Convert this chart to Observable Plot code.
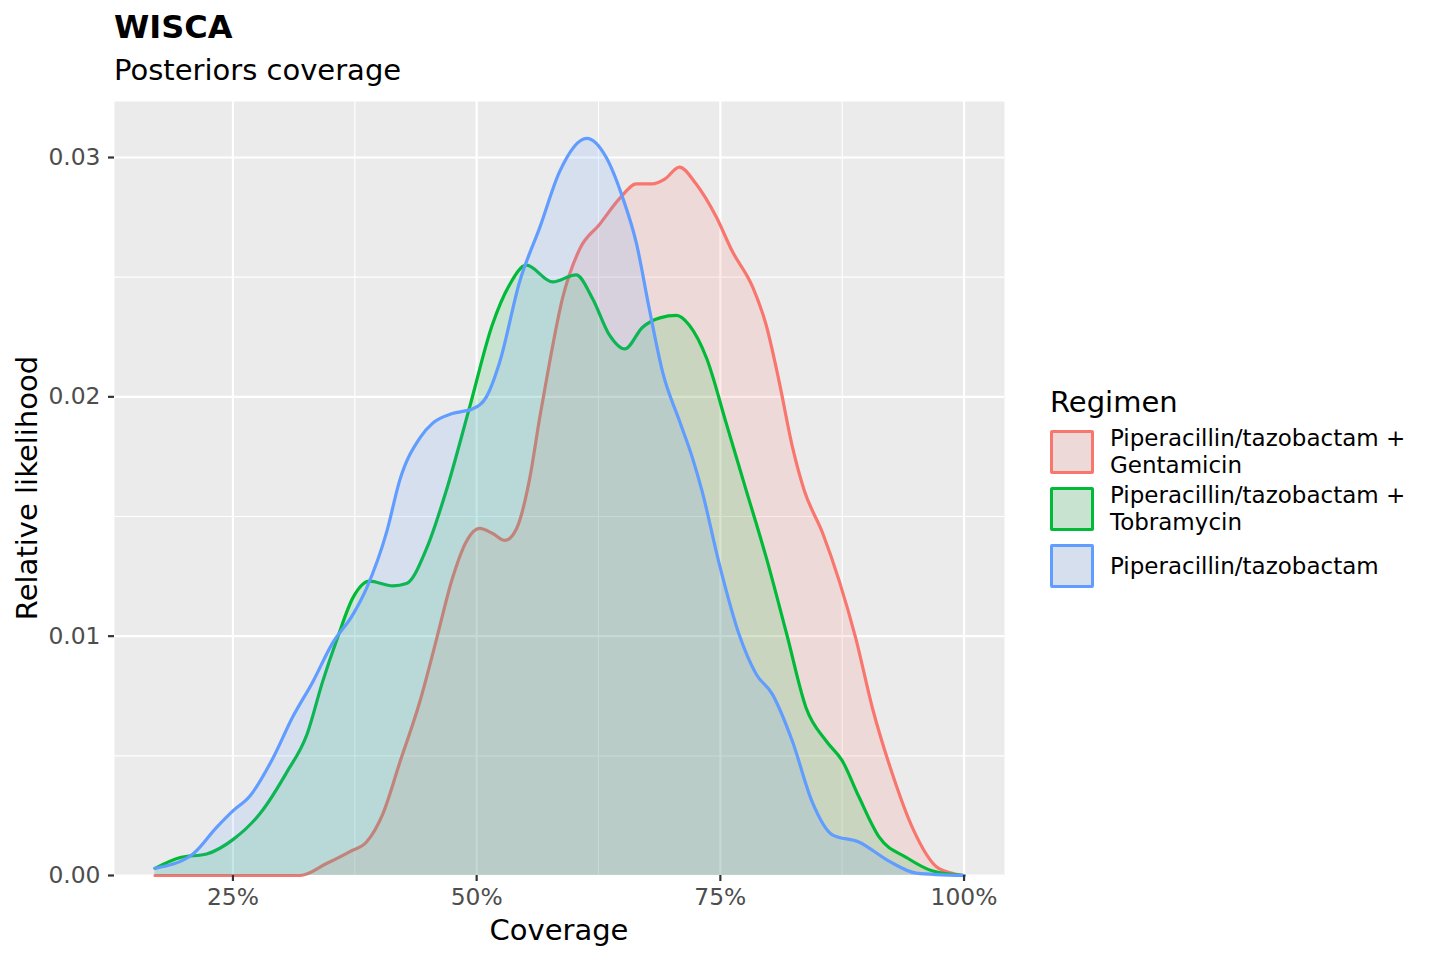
<!DOCTYPE html>
<html>
<head>
<meta charset="utf-8">
<script src="https://cdn.jsdelivr.net/npm/d3@7"></script>
<script src="https://cdn.jsdelivr.net/npm/@observablehq/plot@0.6"></script>
<style>
  html, body { margin: 0; padding: 0; background: #fff; }
  #wrap { position: relative; width: 1440px; height: 960px; font-family: "DejaVu Sans", sans-serif; overflow: hidden; }
  #chart { position: absolute; left: 0; top: 0; }
  .abs { position: absolute; white-space: nowrap; color: #000; }
  #title { left: 114px; top: 8px; font-size: 32px; font-weight: bold; line-height: 38px; }
  #subtitle { left: 114px; top: 53px; font-size: 29px; line-height: 34px; }
  #xlab { left: 559px; top: 930px; font-size: 29px; transform: translate(-50%, -50%); }
  #ylab { left: 27px; top: 488px; font-size: 29px; transform: translate(-50%, -50%) rotate(-90deg); }
  #legtitle { left: 1050px; top: 402px; font-size: 29px; transform: translateY(-50%); }
  .key { position: absolute; left: 1050px; width: 44px; height: 44px; box-sizing: border-box; border-radius: 2px; }
  .keytext { position: absolute; left: 1110px; transform: translateY(-50%); white-space: nowrap; }
  .keyline { font-size: 23px; line-height: 27px; height: 27px; }
</style>
</head>
<body>
<div id="wrap">
  <div id="chart"></div>
  <div id="title" class="abs">WISCA</div>
  <div id="subtitle" class="abs">Posteriors coverage</div>
  <div id="xlab" class="abs">Coverage</div>
  <div id="ylab" class="abs">Relative likelihood</div>
  <div id="legtitle" class="abs">Regimen</div>
  <div id="legend"></div>
</div>
<script>
// Series names (legend order)
const regimens = ["Piperacillin/tazobactam + Gentamicin", "Piperacillin/tazobactam + Tobramycin", "Piperacillin/tazobactam"];
const legendLines = [["Piperacillin/tazobactam +", "Gentamicin"], ["Piperacillin/tazobactam +", "Tobramycin"], ["Piperacillin/tazobactam"]];
const colors = ["#F8766D", "#00BA38", "#619CFF"];

// Piperacillin/tazobactam + Gentamicin (coverage %, relative likelihood)
const gentX = [17, 25, 31.9, 34.6, 37.0, 38.7, 40.4, 42.1, 44.2, 45.9, 47.5, 49.0, 50.3, 51.6, 52.9, 54.1, 55.4, 56.5, 57.2, 58.8, 60.6, 62.6, 64.7, 66.4, 68.0, 69.3, 70.8, 72.5, 74.6, 76.2, 78.3, 79.7, 81.0, 82.4, 83.6, 85.5, 87.2, 88.9, 90.6, 92.6, 94.7, 97.4, 100];
const gentY = [0, 0, 0, 0.0005, 0.0010, 0.0014, 0.0026, 0.0047, 0.0073, 0.0099, 0.0124, 0.0140, 0.0145, 0.0143, 0.0140, 0.0145, 0.0165, 0.0192, 0.0208, 0.0241, 0.0262, 0.0272, 0.0283, 0.0289, 0.0289, 0.0291, 0.0296, 0.0289, 0.0275, 0.0261, 0.0246, 0.0230, 0.0207, 0.0179, 0.0161, 0.0143, 0.0123, 0.0099, 0.0070, 0.0043, 0.0020, 0.0003, 0];

// Piperacillin/tazobactam + Tobramycin
const tobX = [17, 19.6, 22.3, 25, 27.8, 30.5, 32.6, 34.2, 35.7, 37.3, 39.0, 41.4, 42.8, 44.9, 46.9, 49.3, 51.6, 53.4, 55.1, 57.8, 60.2, 61.9, 63.6, 65.2, 67.0, 68.8, 70.5, 71.8, 73.6, 75.6, 77.5, 79.7, 81.8, 83.8, 85.9, 87.5, 89.2, 91.3, 94.1, 96.7, 100];
const tobY = [0.0003, 0.00075, 0.0009, 0.0015, 0.0026, 0.0043, 0.0059, 0.0081, 0.0099, 0.0116, 0.0123, 0.0121, 0.0122, 0.0137, 0.0161, 0.0196, 0.0230, 0.0247, 0.0255, 0.0248, 0.0251, 0.0241, 0.0226, 0.0220, 0.0229, 0.0233, 0.0234, 0.0230, 0.0216, 0.0189, 0.0163, 0.0133, 0.0101, 0.0070, 0.0056, 0.0048, 0.0033, 0.0016, 0.00075, 0.0002, 0];

// Piperacillin/tazobactam
const pipX = [17, 20.9, 23.3, 25, 26.7, 29.1, 31.1, 33.2, 35.2, 37.3, 38.7, 40.8, 42.1, 44.2, 45.5, 47.5, 49.6, 51.0, 52.4, 54.4, 56.5, 58.5, 61.3, 63.3, 65.0, 66.4, 67.7, 69.1, 70.8, 72.1, 73.1, 74.9, 76.9, 78.7, 80.3, 82.4, 84.4, 86.5, 89.2, 92.3, 95.1, 100];
const pipY = [0.0003, 0.0009, 0.0020, 0.0027, 0.0033, 0.0049, 0.0066, 0.0081, 0.0097, 0.0109, 0.0120, 0.0144, 0.0165, 0.0183, 0.0189, 0.0193, 0.0195, 0.0200, 0.0215, 0.0248, 0.0271, 0.0294, 0.0308, 0.0300, 0.0283, 0.0264, 0.0237, 0.0210, 0.0190, 0.0175, 0.0161, 0.0130, 0.0101, 0.0084, 0.0076, 0.0056, 0.0031, 0.0017, 0.0014, 0.0006, 0.0001, 0];

// Axis ticks
const xTicks = [25, 50, 75, 100];
const xMinor = [37.5, 62.5, 87.5];
const yTicks = [0, 0.01, 0.02, 0.03];
const yMinor = [0.005, 0.015, 0.025];

const seriesX = [gentX, tobX, pipX];
const seriesY = [gentY, tobY, pipY];
const series = seriesX.map((xs, i) => xs.map((x, j) => ({regimen: regimens[i], x, y: seriesY[i][j]})));

const xMin = 17, xMax = 100, yMax = d3.max(seriesY.flat());
const xPad = (xMax - xMin) * 0.05;

const curve = "monotone-x";
const densityMarks = series.flatMap((data, i) => [
  Plot.areaY(data, {x: "x", y: "y", fill: colors[i], fillOpacity: 0.15, curve}),
  Plot.lineY(data, {x: "x", y: "y", stroke: colors[i], strokeWidth: 3.2, curve})
]);

const chart = Plot.plot({
  width: 1440,
  height: 960,
  marginLeft: 114,
  marginRight: 436,
  marginTop: 101,
  marginBottom: 85,
  style: {fontFamily: "DejaVu Sans, sans-serif", background: "transparent", overflow: "visible"},
  x: {domain: [xMin - xPad, xMax + xPad]},
  y: {domain: [0, yMax * 1.05]},
  marks: [
    Plot.frame({fill: "#EBEBEB", stroke: null}),
    Plot.gridX(xMinor, {stroke: "#fff", strokeOpacity: 1, strokeWidth: 1.1}),
    Plot.gridY(yMinor, {stroke: "#fff", strokeOpacity: 1, strokeWidth: 1.1}),
    Plot.gridX(xTicks, {stroke: "#fff", strokeOpacity: 1, strokeWidth: 2.2}),
    Plot.gridY(yTicks, {stroke: "#fff", strokeOpacity: 1, strokeWidth: 2.2}),
    ...densityMarks,
    Plot.axisX(xTicks, {tickFormat: d => d + "%", tickSize: 6, tickPadding: 7, fontSize: 23.4, fill: "#4D4D4D", stroke: "#333", strokeWidth: 2.2, label: null}),
    Plot.axisY(yTicks, {tickFormat: d3.format(".2f"), tickSize: 6, tickPadding: 8, fontSize: 23.4, fill: "#4D4D4D", stroke: "#333", strokeWidth: 2.2, label: null})
  ]
});
document.getElementById("chart").appendChild(chart);

// Legend
const keyTops = [430, 487, 544];
const legend = document.getElementById("legend");
regimens.forEach((r, i) => {
  const c = d3.color(colors[i]);
  const key = document.createElement("div");
  key.className = "key";
  key.style.top = keyTops[i] + "px";
  key.style.border = "3px solid " + colors[i];
  key.style.background = `linear-gradient(rgba(${c.r},${c.g},${c.b},0.15), rgba(${c.r},${c.g},${c.b},0.15)), #EBEBEB`;
  legend.appendChild(key);
  const t = document.createElement("div");
  t.className = "keytext";
  t.style.top = (keyTops[i] + 22) + "px";
  legendLines[i].forEach(line => {
    const l = document.createElement("div");
    l.className = "keyline";
    l.textContent = line;
    t.appendChild(l);
  });
  legend.appendChild(t);
});
</script>
</body>
</html>
